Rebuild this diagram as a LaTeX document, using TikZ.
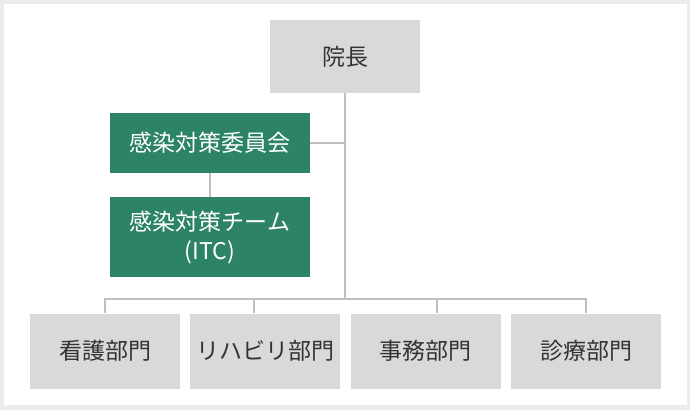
\documentclass[tikz,border=0pt]{standalone}
\usepackage{fontspec}
\setmainfont{Noto Sans CJK JP}
\usetikzlibrary{positioning}
\definecolor{framegray}{HTML}{ECECEC}
\definecolor{boxgray}{HTML}{D9D9D9}
\definecolor{teamgreen}{HTML}{2C8464}
\definecolor{linegray}{HTML}{BFBFBF}
\definecolor{textgray}{HTML}{333333}
\tikzset{
  head/.style={fill=boxgray, text=textgray, minimum width=150pt, minimum height=73pt, inner sep=0pt, align=center, font=\fontsize{23}{29}\selectfont},
  team/.style={fill=teamgreen, text=white, minimum width=200pt, minimum height=60pt, inner sep=0pt, align=center, font=\fontsize{23}{29}\selectfont},
  dept/.style={fill=boxgray, text=textgray, minimum width=150pt, minimum height=75pt, inner sep=0pt, align=center, font=\fontsize{23}{29}\selectfont},
  link/.style={draw=linegray, line width=2pt}
}

\begin{document}
\begin{tikzpicture}[x=1pt, y=-1pt, node distance=10pt]
  \fill[framegray] (0,0) rectangle (690,410);
  \fill[white] (4,4) rectangle (687,405);

  \node[head] (director) at (345,56.5) {院長};
  \node[team] (committee) at (210,143) {感染対策委員会};
  \node[team, minimum height=80pt, below=24pt of committee] (itc) {感染対策チーム\\(ITC)};

  \node[dept] (nursing) at (105,351) {看護部門};
  \node[dept, right=of nursing] (rehab) {リハビリ部門};
  \node[dept, right=of rehab] (admin) {事務部門};
  \node[dept, right=of admin] (clinical) {診療部門};

  \coordinate (bus) at (345,299);

  \draw[link] (director.south) -- (bus);
  \draw[link] (committee.east) -- (committee.east -| director.south);
  \draw[link] (committee) -- (itc);
  \draw[link] (bus) -| (nursing.north);
  \draw[link] (bus) -| ([xshift=-11pt]rehab.north);
  \draw[link] (bus) -| ([xshift=11pt]admin.north);
  \draw[link] (bus) -| (clinical.north);
\end{tikzpicture}
\end{document}
